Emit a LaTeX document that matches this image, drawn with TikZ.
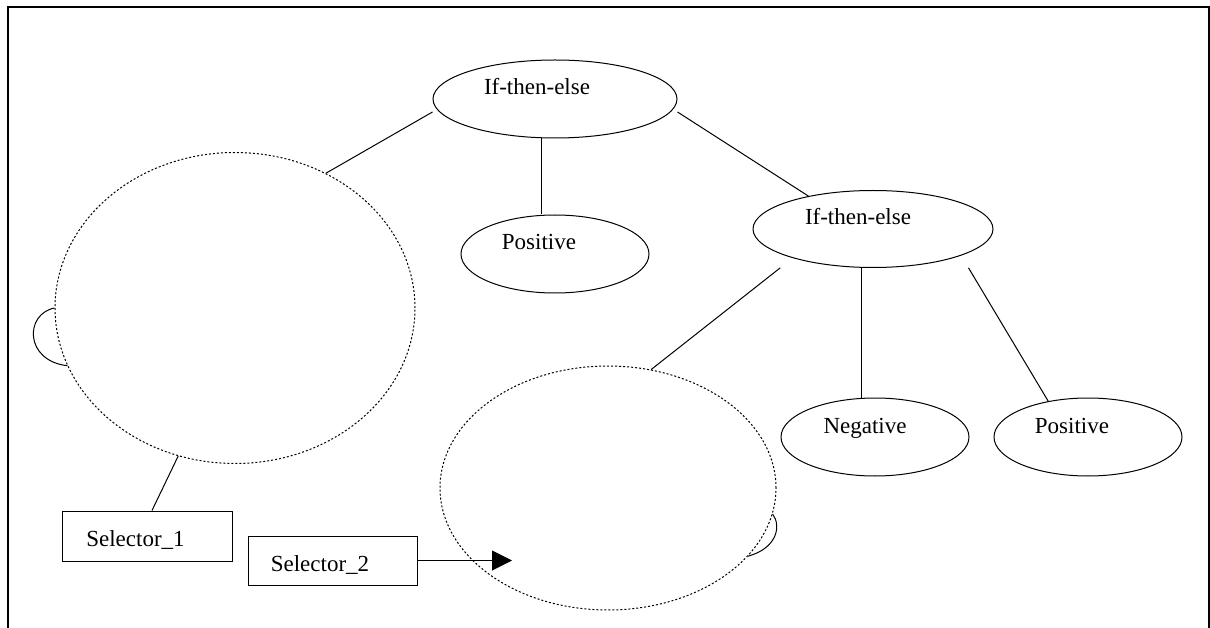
\documentclass[tikz,border=0pt]{standalone}
\usepackage{fontspec}
\setmainfont{Liberation Serif}
\usetikzlibrary{shapes.geometric,arrows.meta}

\begin{document}
\begin{tikzpicture}[x=1pt,y=-1pt,
  oval/.style={draw,ellipse,line width=1pt,inner sep=0pt},
  blob/.style={draw,ellipse,line width=1pt,dash pattern=on 2pt off 2pt,inner sep=0pt},
  box/.style={draw,rectangle,line width=1pt,inner sep=0pt},
  lbl/.style={anchor=base,inner sep=0pt,font=\fontsize{23}{27}\selectfont},
  edge/.style={line width=1pt}]
  \useasboundingbox (0,0) rectangle (1210,628);
  \draw[line width=1.5pt] (8,628) -- (8,7) -- (1209,7) -- (1209,628);
  \node[oval,minimum width=244,minimum height=78] (ite1) at (555,99) {};
  \node[oval,minimum width=188,minimum height=78] (pos1) at (555,254) {};
  \node[oval,minimum width=240,minimum height=77] (ite2) at (873,229) {};
  \node[oval,minimum width=188,minimum height=78] (neg) at (875,437) {};
  \node[oval,minimum width=188,minimum height=78] (pos2) at (1088,437) {};
  \node[blob,minimum width=360,minimum height=311] (cond1) at (235,308) {};
  \node[blob,minimum width=336,minimum height=244] (cond2) at (608,488) {};
  \node[box,minimum width=170,minimum height=50] (sel1) at (147,536) {};
  \node[box,minimum width=169,minimum height=49] (sel2) at (332.5,560.5) {};
  \node[lbl] (ite1txt) at (537,95) {If-then-else};
  \node[lbl] (pos1txt) at (539,250) {Positive};
  \node[lbl] (ite2txt) at (858,225) {If-then-else};
  \node[lbl] (negtxt) at (865,433) {Negative};
  \node[lbl] (pos2txt) at (1072,433) {Positive};
  \node[lbl] (sel1txt) at (135.5,546) {Selector\_1};
  \node[lbl] (sel2txt) at (320,571) {Selector\_2};
  \draw[edge] ([yshift=-13pt]ite1.west) -- (cond1.56);
  \draw[edge] ([xshift=-14pt]ite1.south) -- ([xshift=-14pt]pos1.north);
  \draw[edge] ([yshift=-13pt]ite1.east) -- (ite2.153);
  \draw[edge] ([yshift=-14pt]ite2.195) -- (cond2.70);
  \draw[edge] ([xshift=-12pt]ite2.south) -- ([xshift=-14pt]neg.north);
  \draw[edge] ([yshift=-15pt]ite2.346) -- (pos2.138);
  \draw[edge] (cond1.249) -- ([xshift=5pt]sel1.north);
  \draw[edge] (cond1.180) .. controls +(-30,6) and +(-43,-5) .. (cond1.199);
  \draw[edge] (cond2.351) .. controls +(9,12) and +(29,-8) .. (cond2.334);
  \coordinate (tip) at (512,560.5);
  \draw[edge,-{Triangle[length=20pt,width=20pt]}] (sel2.east) -- (tip);
\end{tikzpicture}
\end{document}
